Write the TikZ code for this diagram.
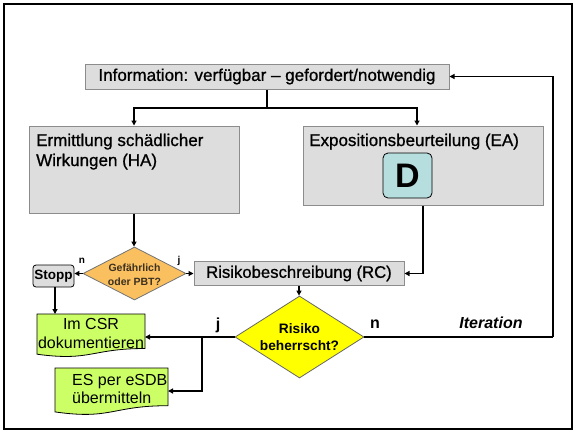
\documentclass[tikz,border=0pt]{standalone}
\usepackage{fontspec}
\setmainfont{Liberation Sans}
\newfontfamily\medfont[FakeBold=0.9]{Liberation Sans}
\usetikzlibrary{shapes.geometric,arrows.meta,calc}
\definecolor{boxgray}{RGB}{221,221,221}
\definecolor{edgegray}{RGB}{140,140,140}
\definecolor{orangefill}{RGB}{250,192,96}
\definecolor{yellowfill}{RGB}{255,255,0}
\definecolor{greenfill}{RGB}{204,255,102}
\definecolor{tealfill}{RGB}{182,222,222}
\definecolor{gtext}{RGB}{60,48,32}
\newcommand{\fsz}[2]{\fontsize{#1}{#2}\selectfont}
\begin{document}
\begin{tikzpicture}[x=1pt,y=-1pt,
  graybox/.style={draw=edgegray,fill=boxgray,line width=1pt,inner sep=0pt},
  conn/.style={line width=1.2pt},
  arr/.style={conn,-{Triangle[length=5pt,width=5pt]}},
  dia/.style={shape=diamond,inner sep=0pt,line width=0.8pt},
  docbox/.style={draw=black,fill=greenfill,line width=0.8pt},
  lbl/.style={inner sep=0pt}
]
\useasboundingbox (0,0) rectangle (577,434);
\draw[line width=2.2pt] (4,4) rectangle (572,429);

\node[graybox,minimum width=364pt,minimum height=25pt,font=\medfont\fsz{17}{20}] (info) at (267,76.5) {Information: verfügbar – gefordert/notwendig};

\node[graybox,minimum width=210pt,minimum height=87pt] (ha) at (134,169.5) {};
\node[lbl,anchor=north west,align=left,font=\medfont\fsz{17}{20}] (hatext) at (36,133.5) {Ermittlung schädlicher\\Wirkungen (HA)};

\node[graybox,minimum width=240pt,minimum height=79pt] (ea) at (423,165.5) {};
\node[lbl,anchor=base west,font=\medfont\fsz{17}{20}] (eatext) at (309,146) {Expositionsbeurteilung (EA)};
\node[draw=black,fill=tealfill,rounded corners=5pt,line width=0.8pt,minimum width=49pt,minimum height=45pt,inner sep=0pt,font=\bfseries\fsz{34}{36}] (d) at (407.5,175.5) {D};

\node[graybox,minimum width=210pt,minimum height=24pt,font=\medfont\fsz{16.7}{20}] (rc) at (299,273.5) {Risikobeschreibung (RC)};

\node[dia,draw=black!55,fill=orangefill,minimum width=103pt,minimum height=53pt] (gef) at (134.5,273.5) {};
\node[lbl,align=center,text=gtext,font=\bfseries\fsz{10.5}{14}] (geftext) at (134.5,275) {Gefährlich\\oder PBT?};

\node[draw=black,fill=boxgray,rounded corners=3pt,line width=0.8pt,minimum width=41pt,minimum height=22pt,inner sep=0pt,font=\bfseries\fsz{13.5}{16}] (stopp) at (53.5,276) {Stopp};

\node[dia,draw=black!60,fill=yellowfill,minimum width=129pt,minimum height=82pt] (risk) at (299.5,337) {};
\node[lbl,align=center,font=\bfseries\fsz{13.7}{17}] (risktext) at (299.5,337.5) {Risiko\\beherrscht?};

% document shapes
\draw[docbox] (37,314) -- (145,314) -- (145,348.5) .. controls (91,348.5) and (91,361.6) .. (37,354.2) -- cycle;
\node[lbl,align=center,font=\fsz{16}{19}] (csrtext) at (91,333) {Im CSR\\dokumentieren};
\draw[docbox] (55,368) -- (168,368) -- (168,405.7) .. controls (111.5,405.7) and (111.5,420) .. (55,411.9) -- cycle;
\node[lbl,anchor=north west,align=left,font=\fsz{16}{18}] (estext) at (72,374.5) {ES per eSDB\\übermitteln};

\coordinate (split) at (267,108);
\coordinate (csrT) at (55,314);
\coordinate (csrR) at (145,337);
\coordinate (br) at (202,337);
\coordinate (esR) at (168,391);
\coordinate (iterC) at (553,337);

\draw[conn] (info.south) -- (split);
\draw[arr] (split) -| (ha.north);
\draw[arr] (split) -| ([xshift=-6pt]ea.north);
\draw[arr] (ha.south) -- (ha.south |- gef.north);
\draw[arr] (gef.west) -- (gef.west -| stopp.east);
\draw[arr] (gef.east) -- (rc.west);
\draw[arr] (ea.south) |- (rc.east);
\draw[arr] (rc.south) -- (rc.south |- risk.north);
\draw[conn] (risk.east) -- (iterC);
\draw[arr] (iterC) |- (info.east);
\draw[arr] (risk.west) -- (csrR);
\draw[arr] (br) |- (esR);
\draw[arr] (stopp.south -| csrT) -- (csrT);

\node[lbl,font=\bfseries\fsz{10}{12}] (n1) at (82,261) {n};
\node[lbl,font=\bfseries\fsz{10}{12}] (j1) at (179,261) {j};
\node[lbl,font=\bfseries\fsz{16}{19}] (j2) at (218,325) {j};
\node[lbl,font=\bfseries\fsz{16}{19}] (n2) at (375,324) {n};
\node[lbl,font=\bfseries\itshape\fsz{16}{19}] (iter) at (491,323) {Iteration};
\end{tikzpicture}
\end{document}
